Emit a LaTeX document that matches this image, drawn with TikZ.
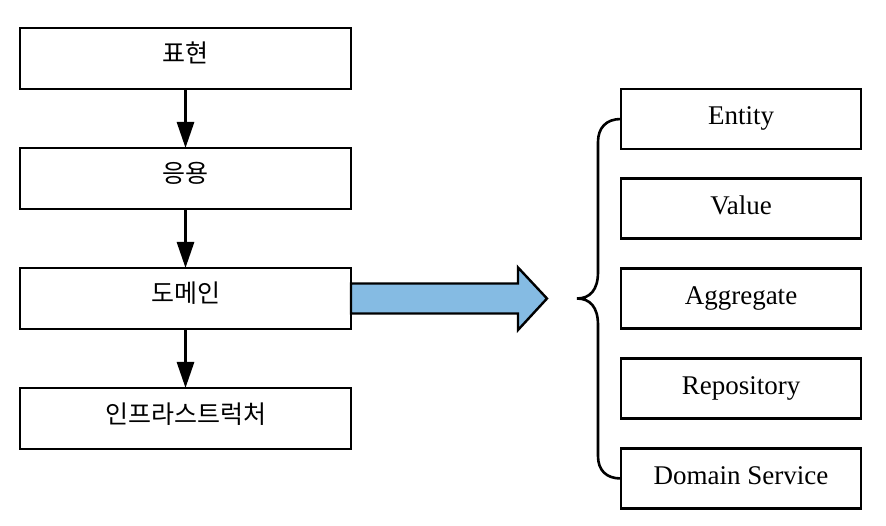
\documentclass[tikz,border=0pt]{standalone}
\usepackage{fontspec}
\setmainfont{Liberation Serif}
\newfontfamily\krfont{Noto Sans CJK KR}
\usetikzlibrary{arrows.meta,calc}
\begin{document}
\begin{tikzpicture}[x=1pt,y=-1pt,
  layer/.style={draw=black,line width=2.6pt,fill=white,minimum width=331pt,minimum height=61pt,outer sep=0pt,inner sep=0pt,text height=17pt,text depth=8pt,font=\krfont\fontsize{25}{30}\selectfont},
  part/.style={draw=black,line width=2.6pt,fill=white,minimum width=240pt,minimum height=60pt,outer sep=0pt,inner sep=0pt,text height=19pt,text depth=7pt,font=\fontsize{27}{32}\selectfont},
  flow/.style={line width=2.8pt,-{Triangle[width=17pt,length=26pt]}},
  bigarrow/.style={draw=black,line width=2.4pt,fill=arrowblue,line join=miter},
  bracket/.style={draw=black,line width=2.6pt}]
\definecolor{arrowblue}{HTML}{85BBE3}
\useasboundingbox (0,0) rectangle (886,526);

% layered architecture
\node[layer] (pres) at (185.5,58.5) {표현};
\node[layer] (app)  at (185.5,178.5) {응용};
\node[layer] (dom)  at (185.5,298.5) {도메인};
\node[layer] (infra) at (185.5,418.5) {인프라스트럭처};

\draw[flow] (pres.south) -- (app.north);
\draw[flow] (app.south) -- (dom.north);
\draw[flow] (dom.south) -- (infra.north);

% domain building blocks
\node[part] (ent)  at (741,119)   {Entity};
\node[part] (val)  at (741,208.5) {Value};
\node[part] (agg)  at (741,298.5) {Aggregate};
\node[part] (repo) at (741,388.5) {Repository};
\node[part] (dsvc) at (741,478.5) {Domain Service};

% block arrow from the domain layer to the brace
\coordinate (tip) at ($(dom.east)+(196,0)$);
\draw[bigarrow] ($(dom.east)+(0,-15)$) -- ++(167,0) -- ++(0,-16)
  -- (tip) -- ($(dom.east)+(167,31.5)$) -- ++(0,-16.5) -- ($(dom.east)+(0,15)$) -- cycle;

% curly brace grouping the building blocks
\coordinate (cusp) at (577,298.5);
\draw[bracket] (ent.west) .. controls (606,119) and (598,128) .. (598,142)
  -- (598,272) .. controls (598,290) and (590,298.5) .. (cusp)
  .. controls (590,298.5) and (598,307) .. (598,325)
  -- (598,456) .. controls (598,470) and (606,478.5) .. (dsvc.west);
\end{tikzpicture}
\end{document}
